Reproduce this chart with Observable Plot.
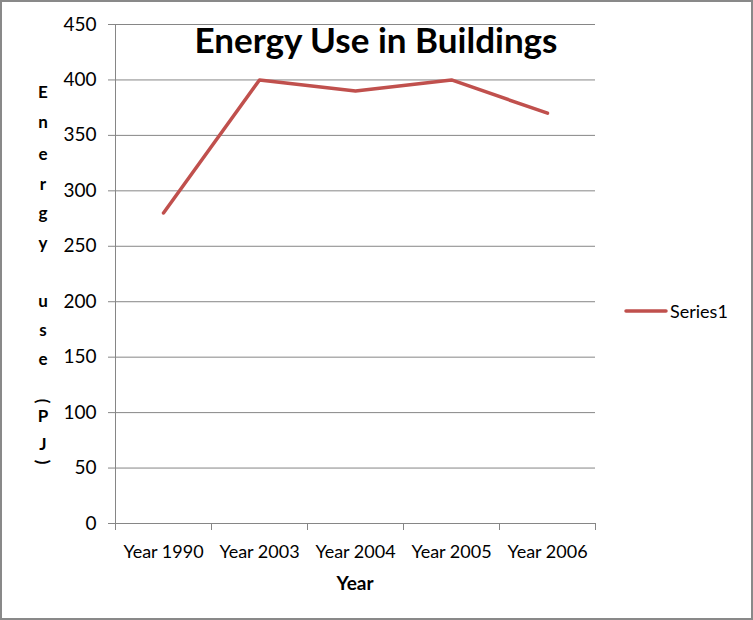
<!DOCTYPE html>
<html><head><meta charset="utf-8">
<script src="https://cdn.jsdelivr.net/npm/d3@7"></script>
<script src="https://cdn.jsdelivr.net/npm/@observablehq/plot@0.6"></script>
<style>body{margin:0;background:#fff} svg{display:block}</style>
</head><body><div id="chart"></div>
<script>
const categories = ["Year 1990","Year 2003","Year 2004","Year 2005","Year 2006"];
const series1 = [280, 400, 390, 400, 370];
const yTicks = [0, 50, 100, 150, 200, 250, 300, 350, 400, 450];
const title = "Energy Use in Buildings";
const xLabel = "Year";
const yLabel = "Energy use (PJ)";
const seriesName = "Series1";

const data = categories.map((c, i) => ({year: c, value: series1[i]}));
const grid = "#868686";
const red = "#C0504D";
const FONT = "Lato, sans-serif";

const chart = Plot.plot({
  width: 753, height: 620,
  marginLeft: 115, marginRight: 158, marginTop: 24, marginBottom: 97,
  style: {fontFamily: FONT, fontSize: "18px", color: "#000", background: "#fff", overflow: "visible"},
  x: {type: "point", domain: categories, padding: 0.5},
  y: {domain: [0, 450]},
  marks: [
    Plot.ruleY(yTicks, {stroke: grid, strokeWidth: 1}),
    Plot.axisY({ticks: yTicks, tickSize: 7, tickPadding: 12, stroke: grid, fill: "#000", fontSize: 19, label: null, tickFormat: d => String(d)}),
    Plot.axisX({tickSize: 0, tickPadding: 22, fill: "#000", fontSize: 18, label: null}),
    Plot.line(data, {x: "year", y: "value", stroke: red, strokeWidth: 3.5, strokeLinecap: "round", strokeLinejoin: "round"})
  ]
});
document.getElementById("chart").appendChild(chart);

const svg = d3.select(chart);
const xs = chart.scale("x"), ys = chart.scale("y");
const pos = categories.map(c => xs.apply(c));
const step = pos[1] - pos[0];
const bounds = [pos[0] - step / 2, ...pos.map(p => p + step / 2)];
const y0 = ys.apply(0), yTop = ys.apply(450);

// left axis line
svg.append("line").attr("x1", Math.round(bounds[0]) + 0.5).attr("x2", Math.round(bounds[0]) + 0.5)
  .attr("y1", yTop).attr("y2", y0).attr("stroke", grid);
// category boundary ticks
svg.append("g").selectAll("line").data(bounds).join("line")
  .attr("x1", d => Math.round(d) + 0.5).attr("x2", d => Math.round(d) + 0.5)
  .attr("y1", y0).attr("y2", y0 + 7).attr("stroke", grid);

// border
svg.append("rect").attr("x", 1).attr("y", 1).attr("width", 751).attr("height", 618)
  .attr("fill", "none").attr("stroke", "#898989").attr("stroke-width", 2);

function txt(sel, size, weight) {
  return sel.style("font-family", FONT).style("font-size", size + "px").style("font-weight", weight).attr("fill", "#000");
}

// title
txt(svg.append("text"), 35, "bold").attr("x", 376).attr("y", 53).attr("text-anchor", "middle").text(title);

// x label
txt(svg.append("text"), 19, "bold").attr("x", (bounds[0] + bounds[bounds.length - 1]) / 2).attr("y", 590)
  .attr("text-anchor", "middle").text(xLabel);

// y label (stacked characters, parentheses turned)
const baselines = [98, 128, 160, 190, 219, 249, null, 307, 336, 365, null, 401, 422, 450, 462];
[...yLabel].forEach((ch, i) => {
  const yy = baselines[i];
  if (ch === " " || yy == null) return;
  const t = txt(svg.append("text"), 17, "bold").attr("x", 43).attr("y", yy).attr("text-anchor", "middle").text(ch);
  if (ch === "(" || ch === ")") t.attr("dominant-baseline", "central").attr("transform", `rotate(90,43,${yy})`);
});

// legend
svg.append("line").attr("x1", 626).attr("x2", 666).attr("y1", 311).attr("y2", 311)
  .attr("stroke", red).attr("stroke-width", 3.5).attr("stroke-linecap", "round");
txt(svg.append("text"), 18, "normal").attr("x", 670).attr("y", 311).attr("text-anchor", "start")
  .attr("dominant-baseline", "central").text(seriesName);
</script>
</body></html>
